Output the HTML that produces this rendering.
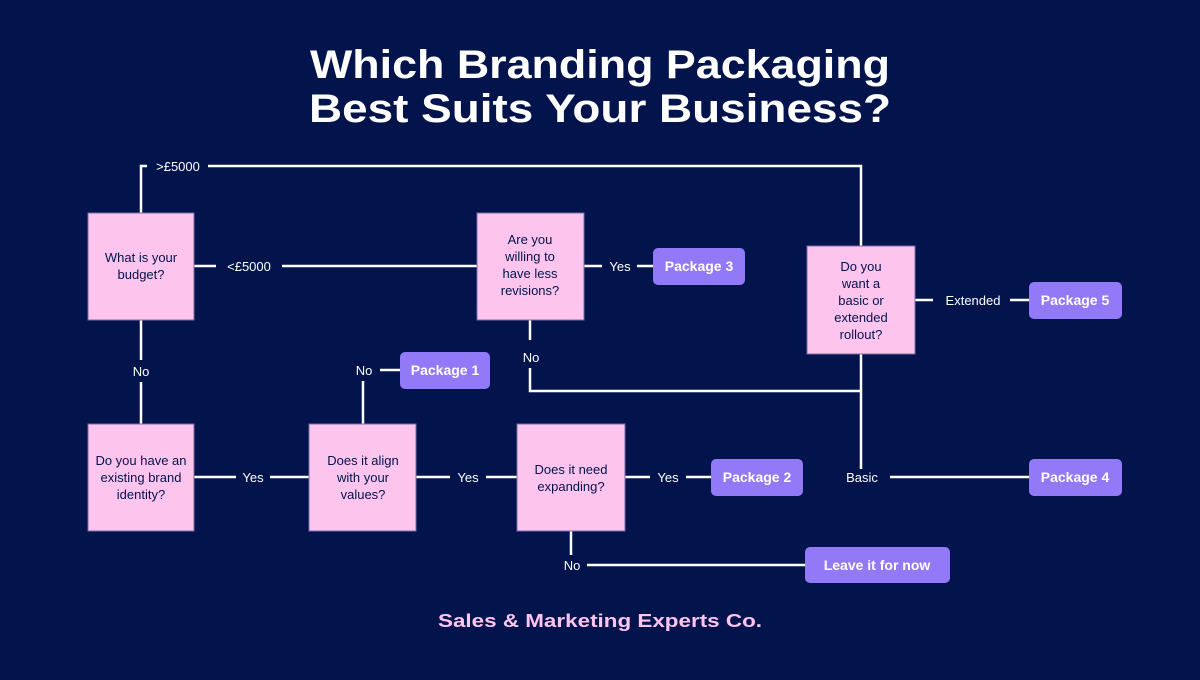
<!DOCTYPE html>
<html><head><meta charset="utf-8"><style>
body{margin:0;width:1200px;height:675px;background:#02144b;overflow:hidden;font-family:"Liberation Sans",sans-serif}
</style></head><body>
<svg width="1200" height="675" viewBox="0 0 1200 675" xmlns="http://www.w3.org/2000/svg">
<rect width="1200" height="675" fill="#02144b"/>
<g font-family="Liberation Sans, sans-serif" font-weight="bold" fill="#fff" text-anchor="middle">
<text x="600" y="78" font-size="40" textLength="580" lengthAdjust="spacingAndGlyphs">Which Branding Packaging</text>
<text x="600" y="122" font-size="40" textLength="582" lengthAdjust="spacingAndGlyphs">Best Suits Your Business?</text>
</g>
<g stroke="#fff" stroke-width="2.5" fill="none">
<polyline points="141,213 141,166 147,166"/>
<polyline points="208,166 861,166 861,246"/>
<line x1="194" y1="266" x2="216" y2="266"/><line x1="282" y1="266" x2="477" y2="266"/>
<line x1="584" y1="266" x2="602" y2="266"/><line x1="637" y1="266" x2="653" y2="266"/>
<line x1="530" y1="320" x2="530" y2="340"/>
<polyline points="530,368 530,391 861,391"/>
<line x1="861" y1="354" x2="861" y2="469"/>
<line x1="890" y1="477" x2="1029" y2="477"/>
<line x1="915" y1="300" x2="933" y2="300"/><line x1="1010" y1="300" x2="1029" y2="300"/>
<line x1="141" y1="320" x2="141" y2="360"/><line x1="141" y1="382" x2="141" y2="424"/>
<line x1="194" y1="477" x2="236" y2="477"/><line x1="270" y1="477" x2="309" y2="477"/>
<line x1="363" y1="424" x2="363" y2="381"/><line x1="380" y1="370" x2="400" y2="370"/>
<line x1="416" y1="477" x2="450" y2="477"/><line x1="486" y1="477" x2="517" y2="477"/>
<line x1="625" y1="477" x2="650" y2="477"/><line x1="686" y1="477" x2="711" y2="477"/>
<line x1="571" y1="531" x2="571" y2="555"/><line x1="587" y1="565" x2="805" y2="565"/>
</g>
<g fill="#fdc4ee" stroke="#7a6aa8" stroke-width="1">
<rect x="88" y="213" width="106" height="107"/>
<rect x="477" y="213" width="107" height="107"/>
<rect x="807" y="246" width="108" height="108"/>
<rect x="88" y="424" width="106" height="107"/>
<rect x="309" y="424" width="107" height="107"/>
<rect x="517" y="424" width="108" height="107"/>
</g>
<g fill="#9179f8">
<rect x="653" y="248" width="92" height="37" rx="5"/>
<rect x="1029" y="282" width="93" height="37" rx="5"/>
<rect x="400" y="352" width="90" height="37" rx="5"/>
<rect x="711" y="459" width="92" height="37" rx="5"/>
<rect x="1029" y="459" width="93" height="37" rx="5"/>
<rect x="805" y="547" width="145" height="36" rx="5"/>
</g>
<g font-family="Liberation Sans, sans-serif" font-size="13" fill="#02144b" text-anchor="middle">
<text x="141" y="262">What is your</text><text x="141" y="279">budget?</text>
<text x="530" y="244">Are you</text><text x="530" y="261">willing to</text><text x="530" y="278">have less</text><text x="530" y="295">revisions?</text>
<text x="861" y="271">Do you</text><text x="861" y="288">want a</text><text x="861" y="305">basic or</text><text x="861" y="322">extended</text><text x="861" y="339">rollout?</text>
<text x="141" y="465">Do you have an</text><text x="141" y="482">existing brand</text><text x="141" y="499">identity?</text>
<text x="363" y="465">Does it align</text><text x="363" y="482">with your</text><text x="363" y="499">values?</text>
<text x="571" y="474">Does it need</text><text x="571" y="491">expanding?</text>
</g>
<g font-family="Liberation Sans, sans-serif" font-size="14" font-weight="bold" fill="#fff" text-anchor="middle">
<text x="699" y="271">Package 3</text>
<text x="1075" y="305">Package 5</text>
<text x="445" y="375">Package 1</text>
<text x="757" y="482">Package 2</text>
<text x="1075" y="482">Package 4</text>
<text x="877" y="570">Leave it for now</text>
</g>
<g font-family="Liberation Sans, sans-serif" font-size="13" fill="#fff" text-anchor="middle">
<text x="178" y="171">&gt;£5000</text>
<text x="249" y="271">&lt;£5000</text>
<text x="620" y="271">Yes</text>
<text x="531" y="362">No</text>
<text x="973" y="305">Extended</text>
<text x="862" y="482">Basic</text>
<text x="141" y="376">No</text>
<text x="253" y="482">Yes</text>
<text x="364" y="375">No</text>
<text x="468" y="482">Yes</text>
<text x="668" y="482">Yes</text>
<text x="572" y="570">No</text>
</g>
<text x="600" y="627" font-family="Liberation Sans, sans-serif" font-size="18" font-weight="bold" fill="#fdc4ee" text-anchor="middle" textLength="324" lengthAdjust="spacingAndGlyphs">Sales &amp; Marketing Experts Co.</text>
</svg>
</body></html>
